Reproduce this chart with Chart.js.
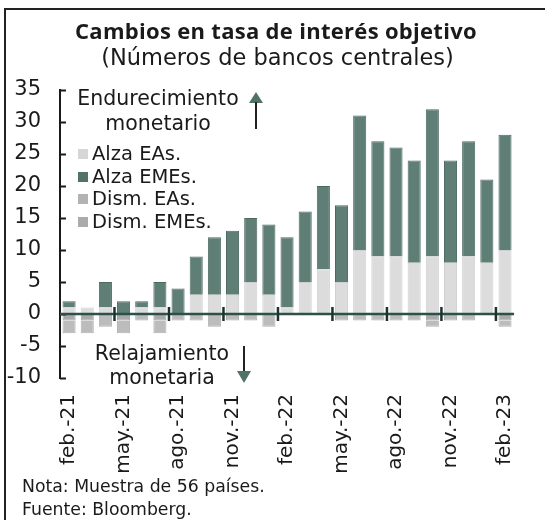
<!DOCTYPE html>
<html>
<head>
<meta charset="utf-8">
<script src="https://cdn.jsdelivr.net/npm/chart.js@4"></script>
<style>
    html, body { margin: 0; padding: 0; background: #fff; overflow: hidden; }
    body { width: 545px; height: 520px; position: relative; font-family: "DejaVu Sans", sans-serif; color: #1a1a1a; }
    #frame { position: absolute; left: 4px; top: 8px; width: 600px; height: 520px; border: 2px solid #222; box-sizing: border-box; }
    #chart-wrap { position: absolute; left: 0; top: 0; width: 545px; height: 520px; }
    .txt { position: absolute; white-space: nowrap; line-height: 1.2; }
    #title { left: 0; width: 552px; top: 17px; text-align: center; font-family: "Open Sans", sans-serif; font-weight: 700; font-size: 22px; letter-spacing: 0.3px; }
    #subtitle { left: 0; width: 555px; top: 44px; text-align: center; font-size: 22.5px; }
    .note { left: 22px; font-size: 17.3px; }
    .ann { font-size: 20.5px; text-align: center; }
    .legend-item { position: absolute; left: 78px; font-size: 19.5px; line-height: 22px; }
    .legend-item span.sw { display: inline-block; width: 10px; height: 10px; margin-right: 4px; vertical-align: 1px; }
</style>
</head>
<body>
<div id="frame"></div>
<div id="chart-wrap"><canvas id="chart" width="545" height="520"></canvas></div>

<div id="title" class="txt">Cambios en tasa de interés objetivo</div>
<div id="subtitle" class="txt">(Números de bancos centrales)</div>

<div class="txt ann" style="left:70px; width:176px; top:86px;">Endurecimiento</div>
<div class="txt ann" style="left:70px; width:176px; top:111px;">monetario</div>
<svg style="position:absolute; left:248px; top:91px;" width="16" height="40">
    <polygon points="8,1 15,12 1,12" fill="#4f7369"/>
    <line x1="8" y1="11" x2="8" y2="38" stroke="#222" stroke-width="2"/>
</svg>

<div class="txt ann" style="left:86px; width:152px; top:341px;">Relajamiento</div>
<div class="txt ann" style="left:86px; width:152px; top:365px;">monetaria</div>
<svg style="position:absolute; left:236px; top:344px;" width="16" height="40">
    <line x1="8" y1="2" x2="8" y2="28" stroke="#222" stroke-width="2"/>
    <polygon points="8,39 15,27 1,27" fill="#4f7369"/>
</svg>

<div id="legend"></div>

<div class="txt note" style="top:476px;">Nota: Muestra de 56 países.</div>
<div class="txt note" style="top:499px;">Fuente: Bloomberg.</div>

<script>
const months = ["feb.-21", "mar.-21", "abr.-21", "may.-21", "jun.-21", "jul.-21", "ago.-21", "sep.-21",
    "oct.-21", "nov.-21", "dic.-21", "ene.-22", "feb.-22", "mar.-22", "abr.-22", "may.-22", "jun.-22",
    "jul.-22", "ago.-22", "sep.-22", "oct.-22", "nov.-22", "dic.-22", "ene.-23", "feb.-23"];

const alzaEAs  = [1, 1, 1, 0, 1, 1, 0, 3, 3, 3, 5, 3, 1, 5, 7, 5, 10, 9, 9, 8, 9, 8, 9, 8, 10];
const alzaEMEs = [1, 0, 4, 2, 1, 4, 4, 6, 9, 10, 10, 11, 11, 11, 13, 12, 21, 18, 17, 16, 23, 16, 18, 13, 18];
const dismEAs  = [-1, -1, 0, -1, 0, -1, 0, 0, 0, 0, 0, 0, 0, 0, 0, 0, 0, 0, 0, 0, -1, 0, 0, 0, -1];
const dismEMEs = [-2, -2, -2, -2, -1, -2, -1, -1, -2, -1, -1, -2, 0, 0, 0, -1, -1, -1, -1, -1, -1, -1, -1, 0, -1];

const yMin = -10, yMax = 35, yStep = 5;

const series = [
    { label: "Alza EAs.", data: alzaEAs, color: "#dcdcdc", swatch: "#d6d6d6", border: "#d0d0d0" },
    { label: "Alza EMEs.", data: alzaEMEs, color: "#5f7e75", swatch: "#4f7369", border: "#4b6a61" },
    { label: "Dism. EAs.", data: dismEAs, color: "#aaaaaa", swatch: "#b3b3b3", border: "#a0a0a0" },
    { label: "Dism. EMEs.", data: dismEMEs, color: "#bcbcbc", swatch: "#ababab", border: "#b0b0b0" }
];

// legend drawn as html inside the plot, like the original
const legendBox = document.getElementById("legend");
series.forEach((s, i) => {
    const item = document.createElement("div");
    item.className = "legend-item";
    item.style.top = (143 + i * 22.5) + "px";
    item.innerHTML = `<span class="sw" style="background:${s.swatch}"></span>${s.label}`;
    legendBox.appendChild(item);
});

// inward y ticks, zero line and quarter ticks on the zero line
const axisMarks = {
    id: "axisMarks",
    afterDatasetsDraw(chart) {
        const { ctx, scales: { x, y } } = chart;
        ctx.save();
        ctx.strokeStyle = "#1a1a1a";
        ctx.lineWidth = 2;
        for (const t of y.ticks) {
            const py = Math.round(y.getPixelForValue(t.value)) + 0.5;
            ctx.beginPath();
            ctx.moveTo(x.left, py);
            ctx.lineTo(x.left + 6, py);
            ctx.stroke();
        }
        const zy = y.getPixelForValue(0);
        ctx.strokeStyle = "#2c5247";
        ctx.lineWidth = 2.5;
        ctx.beginPath();
        ctx.moveTo(x.left, zy);
        ctx.lineTo(x.right, zy);
        ctx.stroke();
        ctx.strokeStyle = "#1c332d";
        for (let i = 3; i < months.length; i += 3) {
            const px = (x.getPixelForValue(i - 1) + x.getPixelForValue(i)) / 2;
            ctx.beginPath();
            ctx.moveTo(px, zy - 7);
            ctx.lineTo(px, zy + 7);
            ctx.stroke();
        }
        ctx.restore();
    }
};

const ctx = document.getElementById("chart").getContext("2d");
new Chart(ctx, {
    type: "bar",
    data: {
        labels: months,
        datasets: series.map(s => ({
            label: s.label,
            data: s.data,
            backgroundColor: s.color,
            borderColor: s.border,
            borderWidth: 1,
            barPercentage: 0.72,
            categoryPercentage: 1
        }))
    },
    options: {
        responsive: false,
        animation: false,
        layout: { padding: { top: 90, left: 0, right: 0, bottom: 0 } },
        plugins: {
            legend: { display: false },
            tooltip: { enabled: false }
        },
        scales: {
            x: {
                stacked: true,
                grid: { display: false, drawTicks: false },
                border: { display: false },
                ticks: {
                    autoSkip: false,
                    maxRotation: 90,
                    minRotation: 90,
                    padding: 16,
                    color: "#1a1a1a",
                    font: { family: "DejaVu Sans", size: 20 },
                    callback: (v, i) => i % 3 === 0 ? months[i] : ""
                },
                afterFit: (scale) => { scale.height = 142; }
            },
            y: {
                stacked: true,
                min: yMin,
                max: yMax,
                grid: { display: false, drawTicks: false },
                border: { display: true, color: "#1a1a1a", width: 2 },
                ticks: {
                    stepSize: yStep,
                    padding: 19,
                    color: "#1a1a1a",
                    font: { family: "DejaVu Sans", size: 21 }
                },
                afterFit: (scale) => { scale.width = 60; }
            }
        }
    },
    plugins: [axisMarks]
});
</script>
</body>
</html>
